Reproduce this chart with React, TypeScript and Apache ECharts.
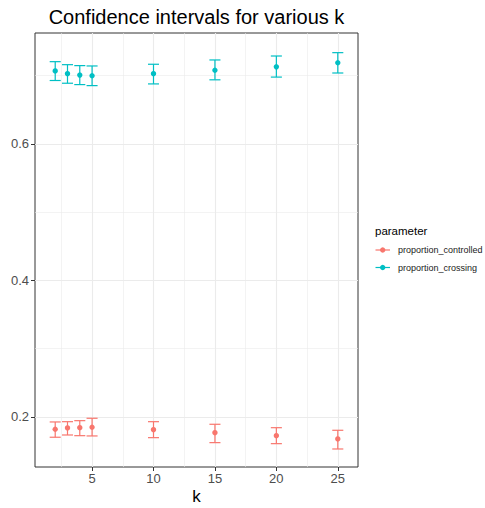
import React, { useEffect, useRef } from "react";
import * as echarts from "echarts";

const kValues = [2, 3, 4, 5, 10, 15, 20, 25];
const crossingMean = [0.707, 0.703, 0.701, 0.7, 0.703, 0.708, 0.713, 0.719];
const crossingLower = [0.693, 0.689, 0.687, 0.6855, 0.688, 0.694, 0.698, 0.704];
const crossingUpper = [0.7206, 0.7162, 0.7148, 0.7143, 0.7168, 0.7231, 0.7289, 0.7338];
const controlledMean = [0.182, 0.1839, 0.1843, 0.1849, 0.1814, 0.177, 0.1726, 0.1678];
const controlledLower = [0.1703, 0.1736, 0.1726, 0.1722, 0.1697, 0.1624, 0.1609, 0.1531];
const controlledUpper = [0.1927, 0.1931, 0.1946, 0.1981, 0.1931, 0.1893, 0.1843, 0.1805];
const xTicks = [5, 10, 15, 20, 25];
const xMinor = [2.5, 7.5, 12.5, 17.5, 22.5];
const yTicks = [0.2, 0.4, 0.6];
const yMinor = [0.3, 0.5, 0.7];
const seriesNames = ["proportion_controlled", "proportion_crossing"];
const colors = ["#F8766D", "#00BFC4"];

const FONT = "Liberation Sans, Arial, Helvetica, sans-serif";

export default function App() {
  const ref = useRef<HTMLDivElement>(null);
  useEffect(() => {
    if (!ref.current) return;
    const chart = echarts.init(ref.current, null, { renderer: "svg" });
    const errorSeries = (name: string, mean: number[], lo: number[], hi: number[], color: string) => ({
      type: "custom",
      name,
      z: 10,
      data: kValues.map((k, i) => [k, mean[i], lo[i], hi[i]]),
      encode: { x: 0, y: [1, 2, 3] },
      renderItem: (params: any, api: any) => {
        const x = api.value(0);
        const m = api.value(1);
        const l = api.value(2);
        const h = api.value(3);
        const mid = api.coord([x, m]);
        const top = api.coord([x, h]);
        const bot = api.coord([x, l]);
        const xl = api.coord([x - 0.45, h])[0];
        const xr = api.coord([x + 0.45, h])[0];
        const style = { stroke: color, lineWidth: 1.2 };
        return {
          type: "group",
          children: [
            { type: "line", shape: { x1: top[0], y1: top[1], x2: bot[0], y2: bot[1] }, style },
            { type: "line", shape: { x1: xl, y1: top[1], x2: xr, y2: top[1] }, style },
            { type: "line", shape: { x1: xl, y1: bot[1], x2: xr, y2: bot[1] }, style },
            {
              type: "circle",
              z2: 10,
              shape: { cx: mid[0], cy: mid[1], r: 2.7 },
              style: { fill: color },
            },
          ],
        };
      },
    });
    const gridLines = [
      ...xTicks.map((v) => ({ xAxis: v, lineStyle: { width: 1.1 } })),
      ...xMinor.map((v) => ({ xAxis: v, lineStyle: { width: 0.6 } })),
      ...yTicks.map((v) => ({ yAxis: v, lineStyle: { width: 1.1 } })),
      ...yMinor.map((v) => ({ yAxis: v, lineStyle: { width: 0.6 } })),
    ];
    const legendItems: any[] = [];
    seriesNames.forEach((n, i) => {
      const y = 250 + i * 17.5;
      legendItems.push(
        { type: "line", shape: { x1: 375.5, y1: y, x2: 390, y2: y }, style: { stroke: colors[i], lineWidth: 1.2 } },
        { type: "circle", shape: { cx: 382.7, cy: y, r: 2.7 }, style: { fill: colors[i] } },
        {
          type: "text",
          x: 398,
          y,
          style: { text: n, fontSize: 9, fontFamily: FONT, fill: "#1a1a1a", textVerticalAlign: "middle" },
        }
      );
    });
    chart.setOption({
      animation: false,
      backgroundColor: "#ffffff",
      grid: {
        left: 35,
        top: 33,
        right: 127,
        bottom: 41,
        show: true,
        borderColor: "#333333",
        borderWidth: 1,
        backgroundColor: "#ffffff",
      },
      xAxis: {
        type: "value",
        min: 0.355,
        max: 26.645,
        splitLine: { show: false },
        axisLine: { show: false },
        axisTick: { show: true, customValues: xTicks, length: 4, lineStyle: { color: "#333333", width: 1 } },
        axisLabel: {
          customValues: xTicks,
          fontSize: 13,
          color: "#4D4D4D",
          fontFamily: FONT,
          margin: 5,
        },
      },
      yAxis: {
        type: "value",
        min: 0.1267,
        max: 0.7626,
        splitLine: { show: false },
        axisLine: { show: false },
        axisTick: { show: true, customValues: yTicks, length: 4, lineStyle: { color: "#333333", width: 1 } },
        axisLabel: {
          customValues: yTicks,
          fontSize: 13,
          color: "#4D4D4D",
          fontFamily: FONT,
          margin: 6,
          formatter: (v: number) => v.toFixed(1),
        },
      },
      series: [
        {
          type: "scatter",
          name: "grid",
          z: 1,
          data: [],
          markLine: {
            silent: true,
            z: 1,
            symbol: "none",
            label: { show: false },
            lineStyle: { color: "#EBEBEB", type: "solid" },
            data: gridLines,
          },
        },
        errorSeries(seriesNames[0], controlledMean, controlledLower, controlledUpper, colors[0]),
        errorSeries(seriesNames[1], crossingMean, crossingLower, crossingUpper, colors[1]),
      ],
      graphic: [
        {
          type: "text",
          x: 196.5,
          y: 17,
          style: {
            text: "Confidence intervals for various k",
            fontSize: 20,
            fontFamily: FONT,
            fill: "#000000",
            textAlign: "center",
            textVerticalAlign: "middle",
          },
        },
        {
          type: "text",
          x: 196.5,
          y: 496,
          style: {
            text: "k",
            fontSize: 17,
            fontFamily: FONT,
            fill: "#000000",
            textAlign: "center",
            textVerticalAlign: "middle",
          },
        },
        {
          type: "text",
          x: 375,
          y: 231,
          style: {
            text: "parameter",
            fontSize: 11.5,
            fontFamily: FONT,
            fill: "#000000",
            textVerticalAlign: "middle",
          },
        },
        ...legendItems,
      ],
    });
    return () => chart.dispose();
  }, []);
  return <div ref={ref} style={{ width: 485, height: 508, position: "absolute", left: 0, top: 0 }} />;
}
